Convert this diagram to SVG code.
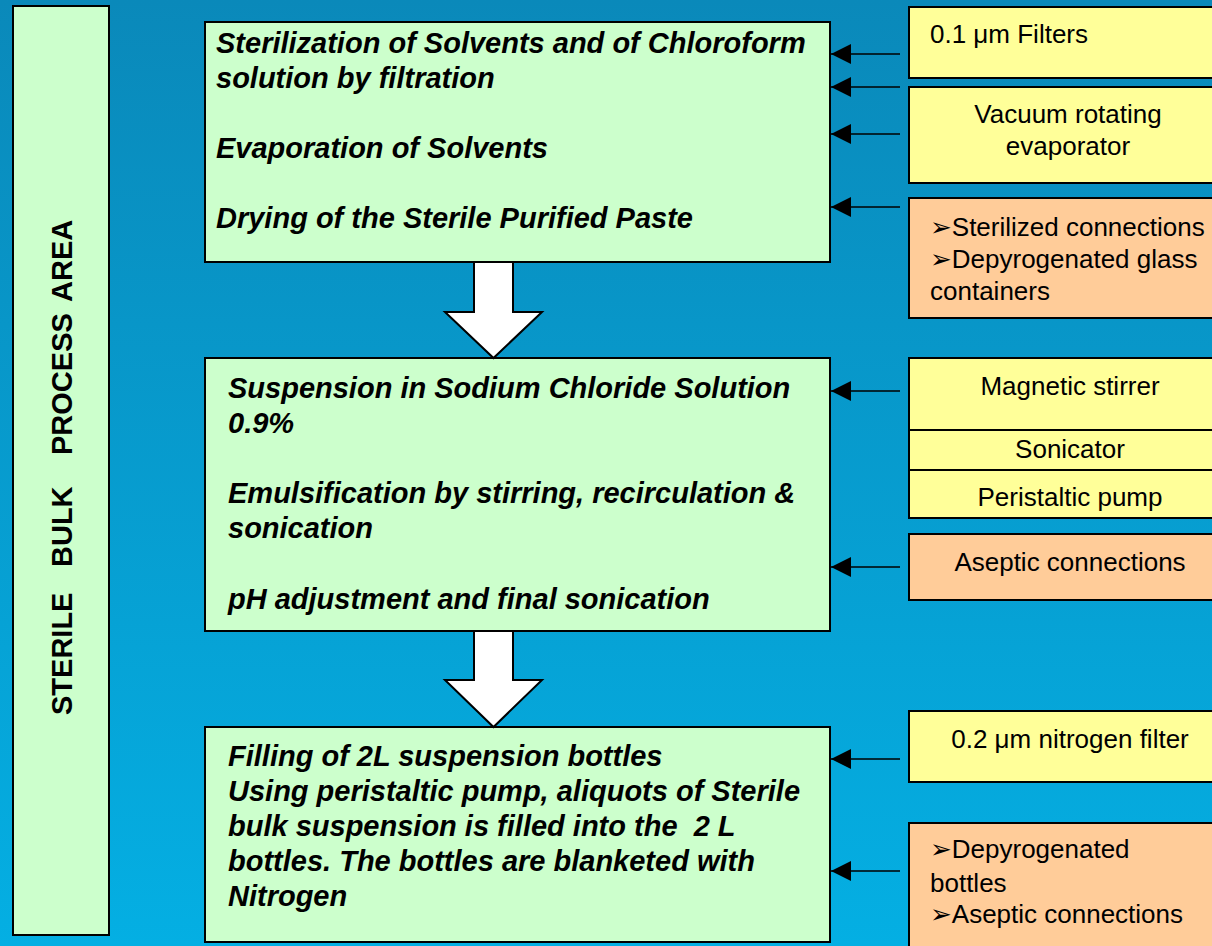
<svg xmlns="http://www.w3.org/2000/svg" width="1212" height="946" viewBox="0 0 1212 946">
<defs>
<linearGradient id="bg" x1="0" y1="0" x2="0" y2="1">
<stop offset="0" stop-color="#0A89BA"/>
<stop offset="1" stop-color="#04AFE3"/>
</linearGradient>
<marker id="ah" viewBox="0 0 20 20" refX="20" refY="10" markerWidth="20" markerHeight="20" markerUnits="userSpaceOnUse" orient="auto">
<path d="M0,0 L20,10 L0,20 Z" fill="#000"/>
</marker>
</defs>
<style>
.box{stroke:#000;stroke-width:2}
.g{fill:#CCFFCC}
.y{fill:#FFFF99}
.o{fill:#FFCC99}
.main{font-family:"Liberation Sans",Arial,sans-serif;font-weight:bold;font-style:italic;font-size:29px;fill:#000}
.side{font-family:"Liberation Sans",Arial,"DejaVu Sans",sans-serif;font-size:26px;fill:#000}
.c{text-anchor:middle}
.vert{font-family:"Liberation Sans",Arial,sans-serif;font-weight:bold;font-size:29px;fill:#000}
.conn{stroke:#000;stroke-width:1.5;fill:none}
.block{fill:#fff;stroke:#000;stroke-width:2;stroke-linejoin:miter}
</style>
<rect width="1212" height="946" fill="url(#bg)"/>

<g id="area">
<rect class="box g" x="13" y="6" width="96" height="929"/>
<text class="vert" transform="rotate(-90)" y="72"><tspan x="-715">STERILE</tspan><tspan x="-567">BULK</tspan><tspan x="-455">PROCESS</tspan><tspan x="-302">AREA</tspan></text>
</g>

<g id="step1">
<rect class="box g" x="205" y="22" width="625" height="240"/>
<text class="main"><tspan x="216" y="53">Sterilization of Solvents and of Chloroform</tspan><tspan x="216" y="88">solution by filtration</tspan><tspan x="216" y="158">Evaporation of Solvents</tspan><tspan x="216" y="228">Drying of the Sterile Purified Paste</tspan></text>
</g>

<g id="step2">
<rect class="box g" x="205" y="358" width="625" height="273"/>
<text class="main"><tspan x="228" y="398">Suspension in Sodium Chloride Solution</tspan><tspan x="228" y="433">0.9%</tspan><tspan x="228" y="503">Emulsification by stirring, recirculation &amp;</tspan><tspan x="228" y="538">sonication</tspan><tspan x="228" y="609">pH adjustment and final sonication</tspan></text>
</g>

<g id="step3">
<rect class="box g" x="205" y="727" width="625" height="215"/>
<text class="main" xml:space="preserve"><tspan x="228" y="766">Filling of 2L suspension bottles</tspan><tspan x="228" y="801">Using peristaltic pump, aliquots of Sterile</tspan><tspan x="228" y="836">bulk suspension is filled into the  2 L</tspan><tspan x="228" y="871">bottles. The bottles are blanketed with</tspan><tspan x="228" y="906">Nitrogen</tspan></text>
</g>

<g id="filters">
<rect class="box y" x="909" y="7" width="320" height="71"/>
<text class="side" x="930" y="43">0.1 μm Filters</text>
</g>
<g id="evaporator">
<rect class="box y" x="909" y="87" width="320" height="96"/>
<text class="side c"><tspan x="1068" y="123">Vacuum rotating</tspan><tspan x="1068" y="155">evaporator</tspan></text>
</g>
<g id="sterilized">
<rect class="box o" x="909" y="198" width="320" height="120"/>
<text class="side"><tspan x="930" y="236">➢Sterilized connections</tspan><tspan x="930" y="268">➢Depyrogenated glass</tspan><tspan x="930" y="300">containers</tspan></text>
</g>

<g id="stirrer">
<rect class="box y" x="909" y="358" width="320" height="72"/>
<text class="side c" x="1070" y="395">Magnetic stirrer</text>
</g>
<g id="sonicator">
<rect class="box y" x="909" y="430" width="320" height="40"/>
<text class="side c" x="1070" y="458">Sonicator</text>
</g>
<g id="pump">
<rect class="box y" x="909" y="470" width="320" height="48"/>
<text class="side c" x="1070" y="506">Peristaltic pump</text>
</g>
<g id="aseptic">
<rect class="box o" x="909" y="534" width="320" height="66"/>
<text class="side c" x="1070" y="571">Aseptic connections</text>
</g>

<g id="nitrogen">
<rect class="box y" x="909" y="711" width="320" height="71"/>
<text class="side c" x="1070" y="748">0.2 μm nitrogen filter</text>
</g>
<g id="bottles">
<rect class="box o" x="909" y="823" width="320" height="140"/>
<text class="side"><tspan x="930" y="858">➢Depyrogenated</tspan><tspan x="930" y="892">bottles</tspan><tspan x="930" y="923">➢Aseptic connections</tspan></text>
</g>

<g id="connectors">
<path class="block" d="M474,262 L513,262 L513,312 L542,312 L493.5,358 L445,312 L474,312 Z"/>
<path class="block" d="M474,631 L513,631 L513,680 L542,680 L493.5,727 L445,680 L474,680 Z"/>
<line class="conn" x1="900" y1="54" x2="831" y2="54" marker-end="url(#ah)"/>
<line class="conn" x1="900" y1="87" x2="831" y2="87" marker-end="url(#ah)"/>
<line class="conn" x1="900" y1="134" x2="831" y2="134" marker-end="url(#ah)"/>
<line class="conn" x1="900" y1="207" x2="831" y2="207" marker-end="url(#ah)"/>
<line class="conn" x1="900" y1="391" x2="831" y2="391" marker-end="url(#ah)"/>
<line class="conn" x1="900" y1="567" x2="831" y2="567" marker-end="url(#ah)"/>
<line class="conn" x1="900" y1="759" x2="831" y2="759" marker-end="url(#ah)"/>
<line class="conn" x1="900" y1="871" x2="831" y2="871" marker-end="url(#ah)"/>
</g>
</svg>
